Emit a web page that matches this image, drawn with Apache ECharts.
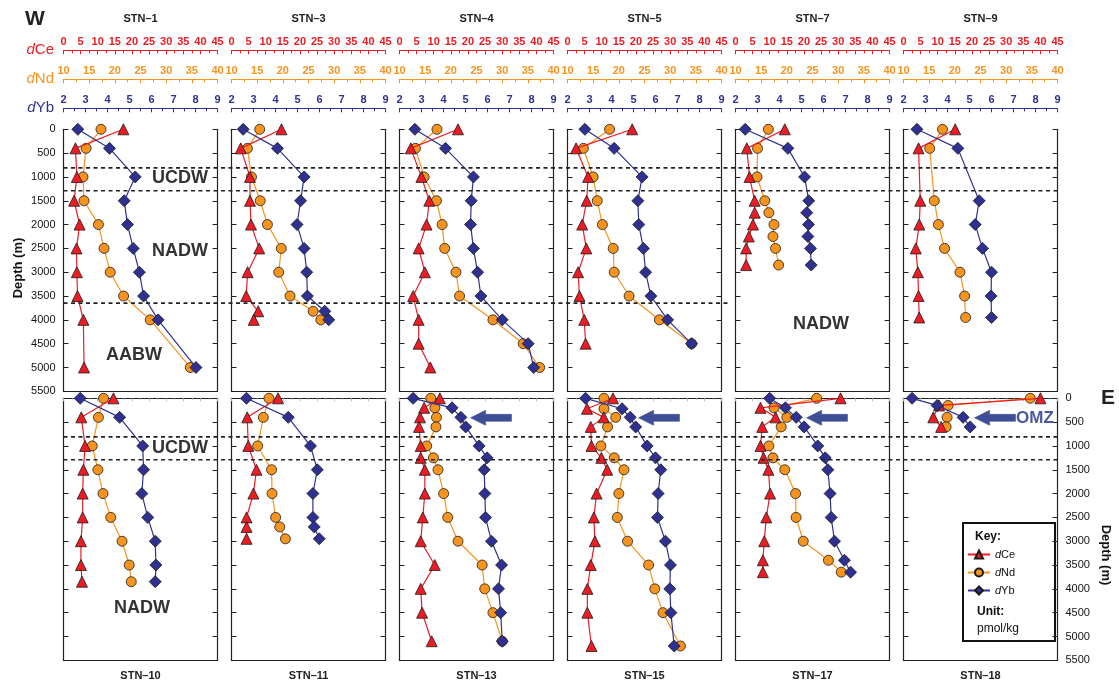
<!DOCTYPE html>
<html><head><meta charset="utf-8">
<script src="https://cdn.jsdelivr.net/npm/echarts@6/dist/echarts.min.js"></script>
<style>html,body{margin:0;padding:0;background:#fff}#c{width:1119px;height:688px}</style>
</head><body><div id="c"></div>
<script>
// ---------------- DATA ----------------
const STATIONS_TOP = ['STN–1','STN–3','STN–4','STN–5','STN–7','STN–9'];
const STATIONS_BOTTOM = ['STN–10','STN–11','STN–13','STN–15','STN–17','STN–18'];
const BOUNDARY_DEPTHS = [810, 1290, 3650];
const WATER_MASSES = ['UCDW','NADW','AABW'];

const STN1_DEPTH = [0,400,1000,1500,2000,2500,3000,3500,4000,5000];
const STN1_CE = [17.5,3.5,3.9,3.1,4.7,3.8,3.9,4.1,5.8,6.0];
const STN1_ND = [17.3,14.4,13.8,14.0,16.8,17.9,19.1,21.7,26.9,34.7];
const STN1_YB = [2.65,4.09,5.26,4.76,4.91,5.17,5.45,5.64,6.3,8.02];

const STN3_DEPTH = [0,400,1000,1500,2000,2500,3000,3500,3820,4000];
const STN3_CE = [14.6,2.7,5.4,5.4,5.7,8.1,4.7,4.3,7.8,6.5];
const STN3_ND = [15.5,13.1,13.9,15.6,17.0,19.7,19.2,21.4,25.9,27.4];
const STN3_YB = [2.53,4.09,5.3,5.14,4.98,5.3,5.42,5.45,6.24,6.42];

const STN4_DEPTH = [0,400,1000,1500,2000,2500,3000,3500,4000,4500,5000];
const STN4_CE = [17.1,3.3,6.4,8.7,7.9,5.6,7.4,4.0,5.6,5.6,9.0];
const STN4_ND = [17.3,13.1,14.8,17.2,18.3,18.8,21.0,21.7,28.2,34.1,37.3];
const STN4_YB = [2.7,4.09,5.36,5.26,5.23,5.36,5.55,5.7,6.67,7.85,8.1];

const STN5_DEPTH = [0,400,1000,1500,2000,2500,3000,3500,4000,4500];
const STN5_CE = [18.9,2.5,6.0,5.6,4.3,5.5,3.1,3.5,4.9,5.3];
const STN5_ND = [18.2,13.1,15.0,15.8,16.8,18.9,19.1,22.0,27.9,34.2];
const STN5_YB = [2.79,4.12,5.39,5.2,5.24,5.45,5.55,5.79,6.55,7.64];

const STN7_DEPTH = [0,400,1000,1500,1750,2000,2250,2500,2850];
const STN7_CE = [14.4,3.3,4.1,5.6,5.6,5.1,3.9,3.1,3.1];
const STN7_ND = [16.4,14.3,14.2,15.7,16.5,17.5,17.3,17.8,18.4];
const STN7_YB = [2.44,4.38,5.14,5.33,5.24,5.32,5.29,5.41,5.44];

const STN9_DEPTH = [0,400,1500,2000,2500,3000,3500,3950];
const STN9_CE = [15.1,4.4,4.9,4.6,3.6,4.2,4.4,4.6];
const STN9_ND = [17.6,15.1,16.0,16.8,18.0,21.0,21.9,22.1];
const STN9_YB = [2.61,4.47,5.44,5.26,5.59,6.0,5.98,6.0];

const STN10_DEPTH = [0,400,1000,1500,2000,2500,3000,3500,3850];
const STN10_CE = [14.6,5.2,6.3,5.8,5.6,5.6,5.1,5.1,5.4];
const STN10_ND = [17.8,16.8,15.6,16.7,17.7,19.2,21.4,22.8,23.2];
const STN10_YB = [2.76,4.55,5.6,5.64,5.56,5.83,6.17,6.2,6.17];

const STN11_DEPTH = [0,400,1000,1500,2000,2500,2700,2950];
const STN11_CE = [13.6,4.6,4.9,7.3,6.4,4.4,4.4,4.4];
const STN11_ND = [17.3,16.2,15.1,17.8,17.9,18.6,19.4,20.5];
const STN11_YB = [2.68,4.58,5.59,5.9,5.7,5.7,5.76,5.99];

const STN13_DEPTH = [0,200,400,600,1000,1250,1500,2000,2500,3000,3500,4000,4500,5100];
const STN13_CE = [11.8,7.2,6.0,5.7,6.2,6.2,7.4,7.4,6.8,6.2,10.3,6.2,6.6,9.4];
const STN13_ND = [16.1,16.9,17.2,17.1,15.3,16.6,17.5,18.6,19.4,21.4,26.1,26.6,28.2,30.0];
const STN13_YB = [2.62,4.39,4.79,5.01,5.62,5.98,5.85,5.88,5.91,6.18,6.64,6.5,6.6,6.67];

const STN15_DEPTH = [0,220,400,600,1000,1250,1500,2000,2500,3000,3500,4000,4500,5200];
const STN15_CE = [13.3,5.7,10.6,6.8,7.0,9.9,11.6,8.5,7.7,8.0,6.8,5.8,5.8,7.0];
const STN15_ND = [17.1,17.1,19.4,17.8,16.5,19.1,21.0,20.0,19.7,21.7,25.8,27.0,28.6,32.0];
const STN15_YB = [2.82,4.48,4.85,5.1,5.62,6.0,6.24,6.12,6.09,6.45,6.68,6.65,6.7,6.85];

const STN17_DEPTH = [0,200,400,600,1000,1250,1500,2000,2500,3000,3400,3650];
const STN17_CE = [30.7,7.3,11.7,7.8,7.3,8.2,9.6,10.1,9.0,8.4,8.0,8.0];
const STN17_ND = [25.8,17.5,20.0,18.9,16.5,17.3,19.6,21.7,21.8,23.2,28.1,30.6];
const STN17_YB = [3.55,4.27,4.76,5.12,5.74,6.08,6.2,6.3,6.35,6.5,6.95,7.23];

const STN18_DEPTH = [0,150,400,600];
const STN18_CE = [40.0,10.4,8.7,11.0];
const STN18_ND = [34.7,18.7,18.5,18.3];
const STN18_YB = [2.39,3.53,4.71,5.03];

const CE_TICKS = {min:0, max:45, interval:5};
const ND_TICKS = {min:10, max:40, interval:5};
const YB_TICKS = {min:2, max:9, interval:1};

// ---------------- LAYOUT ----------------
const FONT = '"Liberation Sans", Arial, Helvetica, sans-serif';
const RED = '#ed1c24', ORANGE = '#f7941d', BLUE = '#2e3192';
const L0 = 63.5, STEP = 168, W = 154, H = 262, TOP1 = 129.3, TOP2 = 398.3;

const panels = [
  {name:STATIONS_TOP[0], d:STN1_DEPTH, ce:STN1_CE, nd:STN1_ND, yb:STN1_YB},
  {name:STATIONS_TOP[1], d:STN3_DEPTH, ce:STN3_CE, nd:STN3_ND, yb:STN3_YB},
  {name:STATIONS_TOP[2], d:STN4_DEPTH, ce:STN4_CE, nd:STN4_ND, yb:STN4_YB},
  {name:STATIONS_TOP[3], d:STN5_DEPTH, ce:STN5_CE, nd:STN5_ND, yb:STN5_YB},
  {name:STATIONS_TOP[4], d:STN7_DEPTH, ce:STN7_CE, nd:STN7_ND, yb:STN7_YB},
  {name:STATIONS_TOP[5], d:STN9_DEPTH, ce:STN9_CE, nd:STN9_ND, yb:STN9_YB},
  {name:STATIONS_BOTTOM[0], d:STN10_DEPTH, ce:STN10_CE, nd:STN10_ND, yb:STN10_YB},
  {name:STATIONS_BOTTOM[1], d:STN11_DEPTH, ce:STN11_CE, nd:STN11_ND, yb:STN11_YB},
  {name:STATIONS_BOTTOM[2], d:STN13_DEPTH, ce:STN13_CE, nd:STN13_ND, yb:STN13_YB},
  {name:STATIONS_BOTTOM[3], d:STN15_DEPTH, ce:STN15_CE, nd:STN15_ND, yb:STN15_YB},
  {name:STATIONS_BOTTOM[4], d:STN17_DEPTH, ce:STN17_CE, nd:STN17_ND, yb:STN17_YB},
  {name:STATIONS_BOTTOM[5], d:STN18_DEPTH, ce:STN18_CE, nd:STN18_ND, yb:STN18_YB}
];

const grids = [], xAxes = [], yAxes = [], series = [];
const topOffsets = [79, 50, 21];
const scales = [CE_TICKS, ND_TICKS, YB_TICKS];
const colors = [RED, ORANGE, BLUE];

panels.forEach((p, i) => {
  const row = i < 6 ? 0 : 1, col = i % 6;
  grids.push({left: L0 + STEP*col, top: row ? TOP2 : TOP1, width: W, height: H, containLabel:false});
  for (let k = 0; k < 3; k++) {
    const s = scales[k];
    if (row === 0) {
      xAxes.push({
        type:'value', gridIndex:i, position:'top', offset: topOffsets[k],
        min:s.min, max:s.max, interval:s.interval,
        axisLine:{show:true, onZero:false, lineStyle:{color:colors[k], width:1.2}},
        axisTick:{show:true, inside:true, length:4, lineStyle:{color:colors[k], width:1}},
        minorTick:{show:true, splitNumber:2, length:3, lineStyle:{color:colors[k], width:1}},
        axisLabel:{show:true, margin:3, color:colors[k], fontSize:11, fontWeight:'bold', fontFamily:FONT, showMinLabel:true, showMaxLabel:true},
        splitLine:{show:false}
      });
    } else {
      const visible = k === 0;
      xAxes.push({
        type:'value', gridIndex:i, position:'top', offset:0, show: visible,
        min:s.min, max:s.max, interval:s.interval,
        axisLine:{show:true, onZero:false, lineStyle:{color:'#222', width:1.2}},
        axisTick:{show:true, inside:true, length:3, lineStyle:{color:'#bbb', width:1}},
        minorTick:{show:true, splitNumber:2, length:2, lineStyle:{color:'#ccc', width:1}},
        axisLabel:{show:false}, splitLine:{show:false}
      });
    }
  }
  xAxes.push({type:'value', gridIndex:i, position:'bottom', min:0, max:1,
    axisLine:{show:true, onZero:false, lineStyle:{color:'#222', width:1.2}},
    axisTick:{show:false}, axisLabel:{show:false}, splitLine:{show:false}});
  const showLeft = i === 0, showRight = i === 11;
  const yl = {margin:8, color:'#111', fontSize:11, fontFamily:FONT, formatter: v => String(v)};
  yAxes.push({type:'value', gridIndex:i, position:'left', inverse:true, min:0, max:5500, interval:500,
    axisLine:{show:true, onZero:false, lineStyle:{color:'#222', width:1.2}},
    axisTick:{show:true, inside:true, length:5, lineStyle:{color:'#222', width:1}},
    axisLabel:Object.assign({show:showLeft}, yl), splitLine:{show:false}});
  yAxes.push({type:'value', gridIndex:i, position:'right', inverse:true, min:0, max:5500, interval:500,
    axisLine:{show:true, onZero:false, lineStyle:{color:'#222', width:1.2}},
    axisTick:{show:true, inside:true, length:5, lineStyle:{color:'#222', width:1}},
    axisLabel:Object.assign({show:showRight}, yl), splitLine:{show:false}});

  const mk = (name, vals, k, symbol, size, z) => ({
    name, type:'line', xAxisIndex: i*4 + k, yAxisIndex: i*2, z,
    data: vals.map((v, j) => [v, p.d[j]]),
    symbol, symbolSize:size, showSymbol:true,
    lineStyle:{color:colors[k], width:1.2},
    itemStyle:{color:colors[k], borderColor:'#1a1a1a', borderWidth:0.8},
    emphasis:{disabled:true}, animation:false
  });
  series.push(mk('dNd', p.nd, 1, 'circle', 10, 2));
  series.push(mk('dCe', p.ce, 0, 'triangle', 11, 3));
  series.push(mk('dYb', p.yb, 2, 'diamond', 12, 4));
});

const chart = echarts.init(document.getElementById('c'), null, {renderer:'canvas'});
chart.setOption({
  animation:false,
  backgroundColor:'#fff',
  textStyle:{fontFamily:FONT},
  grid:grids, xAxis:xAxes, yAxis:yAxes, series,
  legend:{
    data:['dCe','dNd','dYb'], orient:'vertical', left:967, top:549, z:100, padding:0,
    itemWidth:22, itemHeight:10, itemGap:7, selectedMode:false,
    formatter: n => '{i|d}' + n.slice(1),
    textStyle:{fontSize:11, color:'#111', fontFamily:FONT, rich:{i:{fontStyle:'italic', fontSize:11, color:'#111', fontFamily:FONT}}}
  }
});

// ---------------- ANNOTATIONS ----------------
const g = [];
const yOf = (gi, d) => chart.convertToPixel({yAxisIndex: gi*2}, d);
const txt = (x, y, text, opts) => g.push({type:'text', x, y, silent:true, z:50,
  style:Object.assign({text, fill:'#222', font:'bold 11px ' + FONT, textAlign:'center', textVerticalAlign:'middle'}, opts||{})});

panels.forEach((p, i) => {
  const col = i % 6, cx = L0 + STEP*col + W/2;
  txt(cx, i < 6 ? 19 : 676, p.name, {font:'bold 11px ' + FONT, fill:'#222'});
});
txt(35, 19, 'W', {font:'bold 21px ' + FONT, fill:'#222'});
txt(1108, 398, 'E', {font:'bold 21px ' + FONT, fill:'#222'});

const axNames = [['Ce', RED, 50], ['Nd', ORANGE, 79], ['Yb', BLUE, 108]];
axNames.forEach(a => g.push({type:'text', x:54, y:a[2], silent:true, z:50,
  style:{text:'{i|d}{n|' + a[0] + '}', textAlign:'right', textVerticalAlign:'middle',
    rich:{i:{fontStyle:'italic', font:'italic 15px ' + FONT, fill:a[1]}, n:{font:'15px ' + FONT, fill:a[1]}}}}));

g.push({type:'text', x:18, y:268, rotation:Math.PI/2, silent:true, z:50,
  style:{text:'Depth (m)', font:'bold 13px ' + FONT, fill:'#111', textAlign:'center', textVerticalAlign:'middle'}});
g.push({type:'text', x:1106, y:555, rotation:-Math.PI/2, silent:true, z:50,
  style:{text:'Depth (m)', font:'bold 13px ' + FONT, fill:'#111', textAlign:'center', textVerticalAlign:'middle'}});

const dash = (x1, x2, y) => g.push({type:'line', silent:true, z:40,
  shape:{x1, y1:y, x2, y2:y}, style:{stroke:'#222', lineWidth:1.6, lineDash:[4,3.5]}});
const rightEdge = L0 + STEP*5 + W;
dash(L0, rightEdge, yOf(0, BOUNDARY_DEPTHS[0]));
dash(L0, rightEdge, yOf(0, BOUNDARY_DEPTHS[1]));
dash(L0, L0 + STEP*4 - 6, yOf(0, BOUNDARY_DEPTHS[2]));
dash(L0, rightEdge, yOf(6, BOUNDARY_DEPTHS[0]));
dash(L0, rightEdge, yOf(6, BOUNDARY_DEPTHS[1]));

const wm = {font:'bold 18px ' + FONT, fill:'#333'};
txt(180, 178, WATER_MASSES[0], wm);
txt(180, 251, WATER_MASSES[1], wm);
txt(134, 355, WATER_MASSES[2], wm);
txt(821, 324, WATER_MASSES[1], wm);
txt(180, 448, WATER_MASSES[0], wm);
txt(142, 608, WATER_MASSES[1], wm);

const arrowCols = [2, 3, 4, 5];
arrowCols.forEach(c => {
  const x0 = L0 + STEP*c + 71, y = yOf(6, 410);
  g.push({type:'polygon', silent:true, z:45,
    shape:{points:[[x0,y],[x0+15,y-7.5],[x0+15,y-3.5],[x0+41,y-3.5],[x0+41,y+3.5],[x0+15,y+3.5],[x0+15,y+7.5]]},
    style:{fill:'#3f4f97', stroke:'#35437f', lineWidth:0.5}});
});
txt(1035, 418, 'OMZ', {font:'bold 17px ' + FONT, fill:'#4a5aa0'});

g.push({type:'rect', silent:true, z:-10, shape:{x:963, y:523, width:92, height:118},
  style:{fill:'#fff', stroke:'#111', lineWidth:2}});
txt(975, 537, 'Key:', {font:'bold 12px ' + FONT, fill:'#111', textAlign:'left'});
txt(977, 612, 'Unit:', {font:'bold 12px ' + FONT, fill:'#111', textAlign:'left'});
txt(977, 629, 'pmol/kg', {font:'12px ' + FONT, fill:'#111', textAlign:'left'});

chart.setOption({graphic:{z:1, elements:g}});
</script></body></html>
